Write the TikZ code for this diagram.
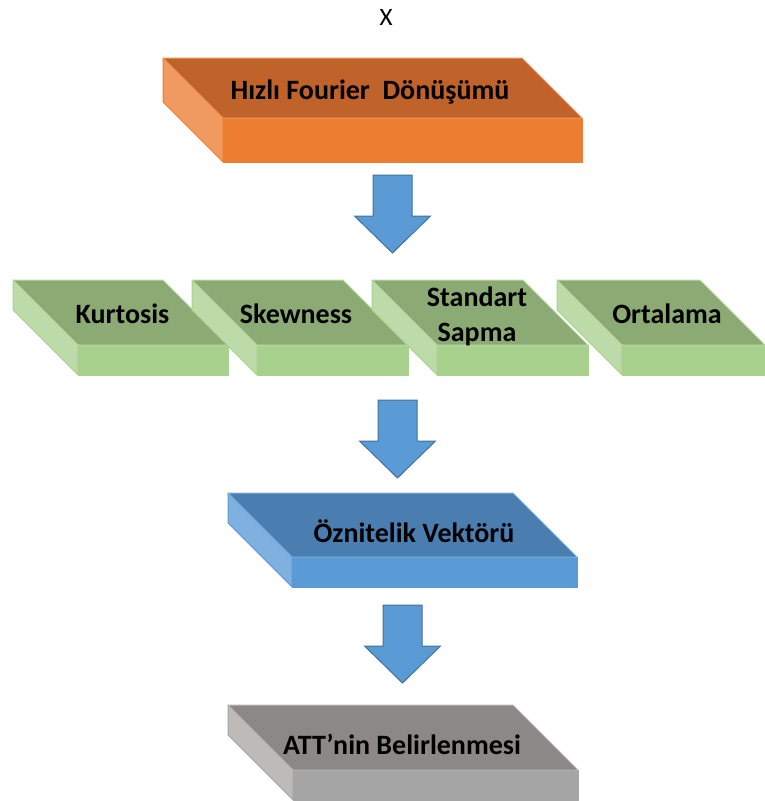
\documentclass[tikz,border=0pt]{standalone}
\usepackage{fontspec}
\setmainfont{Carlito}
\usepackage{tikz}
\usetikzlibrary{calc}
\definecolor{FftTop}{HTML}{C0632B}
\definecolor{FftFront}{HTML}{ED7D31}
\definecolor{FftSide}{HTML}{F19A5F}
\definecolor{StatTop}{HTML}{8BAA74}
\definecolor{StatFront}{HTML}{A9D18E}
\definecolor{StatSide}{HTML}{BCDBA8}
\definecolor{VecTop}{HTML}{4A7EB1}
\definecolor{VecFront}{HTML}{5B9BD5}
\definecolor{VecSide}{HTML}{7FB1E0}
\definecolor{AttTop}{HTML}{8B8887}
\definecolor{AttFront}{HTML}{A5A5A5}
\definecolor{AttSide}{HTML}{BDBBBA}
\definecolor{ArrowEdge}{HTML}{41719C}
\tikzset{
  slabtext/.style={anchor=base,align=center,inner sep=0pt,font=\fontsize{28}{35}\selectfont\bfseries},
  slabedge/.style={line width=1pt,line join=round},
  blockarrow/.style={fill=VecFront,draw=ArrowEdge,line width=1pt,line join=miter}
}
% slab: name, x, y, top width, skew, front height, colour prefix
\newcommand{\slab}[7]{%
  \coordinate (#1) at (#2,#3);
  \filldraw[slabedge,fill=#7Side,draw=#7Front] (#1) -- ++(#5,#5) -- ++(0,#6) -- ++(-#5,-#5) -- cycle;
  \filldraw[slabedge,fill=#7Front,draw=#7Front] ($(#1)+(#5,#5)$) rectangle ++(#4,#6);
  \filldraw[slabedge,fill=#7Top,draw=#7Front!80!white] (#1) -- ++(#4,0) -- ++(#5,#5) -- ++(-#4,0) -- cycle;
}
% block arrow: name, x, y of shaft top centre
\newcommand{\blockarrow}[3]{%
  \coordinate (#1) at (#2,#3);
  \filldraw[blockarrow] ($(#1)+(-19.5,0)$) -- ($(#1)+(19.5,0)$) -- ($(#1)+(19.5,41)$)
    -- ($(#1)+(38,41)$) -- ($(#1)+(0,78)$) -- ($(#1)+(-38,41)$) -- ($(#1)+(-19.5,41)$) -- cycle;
}
\begin{document}
\begin{tikzpicture}[x=1pt,y=-1pt]
\useasboundingbox (0,0) rectangle (765,801);
\node[font=\fontsize{25}{30}\selectfont] (xin) at (386,17) {X};
% FFT
\slab{fft}{163}{58}{359}{60}{44}{Fft}
\node[slabtext] (ffttxt) at (370,99) {Hızlı Fourier~~Dönüşümü};
\blockarrow{arr1}{392.5}{175}
% statistics
\slab{kurt}{13}{280}{150}{65}{30}{Stat}
\slab{skew}{192}{280}{151}{65}{30}{Stat}
\slab{std}{372}{280}{151}{65}{30}{Stat}
\slab{mean}{557}{280}{143}{65}{30}{Stat}
\node[slabtext] (kurttxt) at (122.5,323) {Kurtosis};
\node[slabtext] (skewtxt) at (296,323) {Skewness};
\node[slabtext] (stdtxt) at (477,341) {Standart\\Sapma};
\node[slabtext] (meantxt) at (667,323) {Ortalama};
\blockarrow{arr2}{397.5}{400}
% feature vector
\slab{vec}{228}{493}{285}{64}{30}{Vec}
\node[slabtext] (vectxt) at (414,542) {Öznitelik Vektörü};
\blockarrow{arr3}{402.5}{605}
% result
\slab{att}{228}{705}{285}{65}{30}{Att}
\node[slabtext] (atttxt) at (402,754) {ATT’nin Belirlenmesi};
\end{tikzpicture}
\end{document}
